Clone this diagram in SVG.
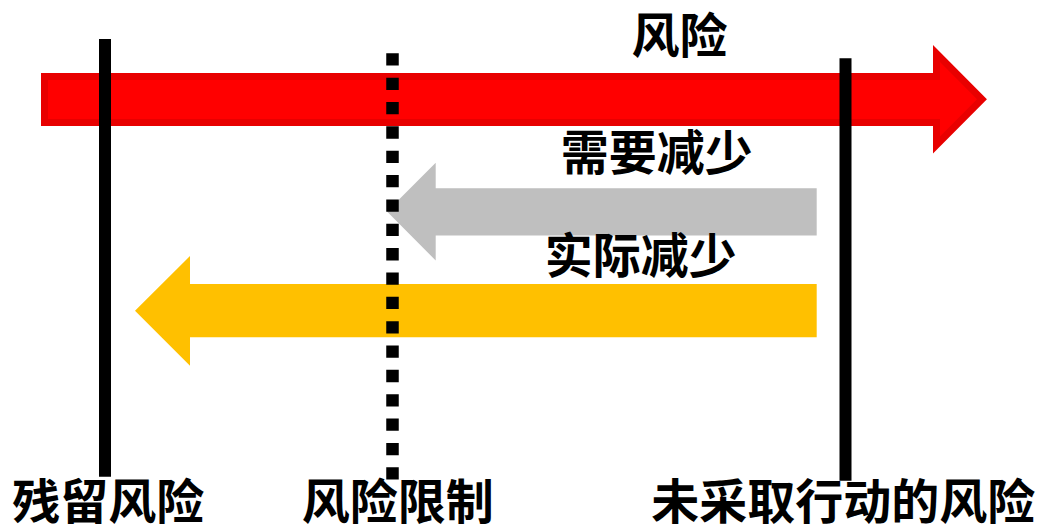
<svg xmlns="http://www.w3.org/2000/svg" width="1040" height="525" viewBox="0 0 1040 525">
<style>
.lbl{font-family:"Noto Sans CJK SC","Noto Sans",sans-serif;font-weight:bold;font-size:48px;fill:#000;text-anchor:middle}
.vline{stroke:#000;stroke-width:12;fill:none}
</style>
<rect width="1040" height="525" fill="#fff"/>
<g id="arrow-risk">
<polygon points="44.5,76.5 936.5,76.5 936.5,53.5 982,99.3 936.5,145 936.5,122.5 44.5,122.5" fill="#ff0000" stroke="#e80000" stroke-width="7" stroke-linejoin="miter"/>
</g>
<g id="arrow-needed">
<polygon points="816.7,188.3 435.7,188.3 435.7,162.7 387,211.5 435.7,260.5 435.7,235.5 816.7,235.5" fill="#bfbfbf"/>
</g>
<g id="arrow-actual">
<polygon points="816.7,284 190,284 190,256 135,310.7 190,365.7 190,337.3 816.7,337.3" fill="#ffc000"/>
</g>
<g id="connectors">
<line class="vline" x1="105" y1="39" x2="105" y2="476.7"/>
<line class="vline" x1="845.5" y1="58.3" x2="845.5" y2="480.7"/>
<line x1="392.5" y1="53.3" x2="392.5" y2="480" stroke="#000" stroke-width="12.5" stroke-dasharray="12.3 12.05"/>
</g>
<g id="label-risk"><text class="lbl" x="679.5" y="53">风险</text></g>
<g id="label-needed"><text class="lbl" x="656.7" y="169.5">需要减少</text></g>
<g id="label-actual"><text class="lbl" x="640.8" y="273">实际减少</text></g>
<g id="label-residual"><text class="lbl" x="108.3" y="519">残留风险</text></g>
<g id="label-limit"><text class="lbl" x="397.7" y="519">风险限制</text></g>
<g id="label-untreated"><text class="lbl" x="843.3" y="519">未采取行动的风险</text></g>
</svg>
